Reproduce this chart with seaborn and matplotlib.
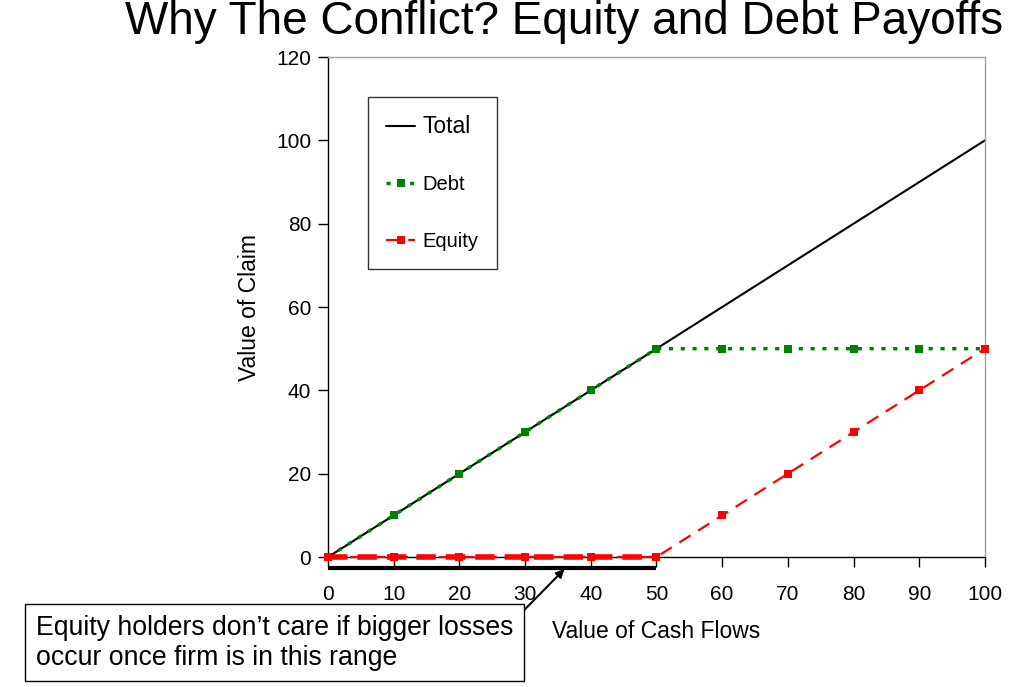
import numpy as np
import pandas as pd
import seaborn as sns
import matplotlib.pyplot as plt

# Data
cash_flows = [0, 10, 20, 30, 40, 50, 60, 70, 80, 90, 100]
total = [0, 10, 20, 30, 40, 50, 60, 70, 80, 90, 100]
debt = [0, 10, 20, 30, 40, 50, 50, 50, 50, 50, 50]
equity = [0, 0, 0, 0, 0, 0, 10, 20, 30, 40, 50]
x_ticks = [0, 10, 20, 30, 40, 50, 60, 70, 80, 90, 100]
y_ticks = [0, 20, 40, 60, 80, 100, 120]

df = pd.DataFrame({"cash": cash_flows, "Total": total, "Debt": debt, "Equity": equity})

sns.set_style("white")
plt.rcParams["font.family"] = ["Liberation Sans", "DejaVu Sans"]
plt.rcParams["text.color"] = "black"
plt.rcParams["axes.labelcolor"] = "black"
plt.rcParams["xtick.color"] = "black"
plt.rcParams["ytick.color"] = "black"

fig = plt.figure(figsize=(10.24, 6.87), dpi=100)
ax = fig.add_axes([0.3203, 0.1892, 0.6416, 0.7278])

# thick part of equity over the flat range (drawn first, markers go on top)
flat = df[df["cash"] <= 50]
ax.plot(flat["cash"], flat["Equity"], color="#ff0000", linewidth=4,
        linestyle=(0, (3.5, 1.8)), zorder=3, clip_on=False)

# Lines
sns.lineplot(data=df, x="cash", y="Total", color="black", linewidth=1.5,
             label="Total", ax=ax, clip_on=False)
sns.lineplot(data=df, x="cash", y="Debt", color="#008000", linewidth=2.5,
             linestyle=(0, (1.2, 2.2)), marker="s", markersize=6,
             markeredgewidth=0, label="Debt", ax=ax, clip_on=False)
sns.lineplot(data=df, x="cash", y="Equity", color="#ff0000", linewidth=1.6,
             linestyle=(0, (6, 4)), marker="s", markersize=6,
             markeredgewidth=0, label="Equity", ax=ax, clip_on=False,
             zorder=3.5)

# Axes
ax.set_xlim(0, 100)
ax.set_ylim(0, 120)
ax.set_xticks(x_ticks)
ax.set_yticks(y_ticks)
ax.tick_params(axis="both", labelsize=15, direction="out", length=7,
               width=1, color="black", bottom=True, left=True)
ax.tick_params(axis="x", pad=13)
ax.tick_params(axis="y", pad=5)
ax.set_xlabel("Value of Cash Flows", fontsize=16.5, labelpad=12)
ax.set_ylabel("Value of Claim", fontsize=16.5, labelpad=11)

for s in ["left", "bottom"]:
    ax.spines[s].set_color("black")
    ax.spines[s].set_linewidth(1)
for s in ["top", "right"]:
    ax.spines[s].set_color("#a0a0a0")
    ax.spines[s].set_linewidth(1)

leg = ax.legend(loc="upper left", bbox_to_anchor=(0.061, 0.92), fontsize=14.5,
                frameon=True, fancybox=False, edgecolor="black",
                labelspacing=1.85, handlelength=1.45, borderpad=0.9,
                handletextpad=0.35, borderaxespad=0)
leg.get_frame().set_linewidth(1)
leg.get_texts()[0].set_fontsize(16.5)

# Bracket under the flat range
ax.plot([0, 50], [-2.6, -2.6], color="black", linewidth=3, clip_on=False,
        solid_capstyle="butt")

# Annotation
ax.annotate("Equity holders don’t care if bigger losses\noccur once firm is in this range",
            xy=(36, -2.9), xycoords="data",
            xytext=(0.035, 0.024), textcoords="figure fraction",
            fontsize=19.2, ha="left", va="bottom", linespacing=1.2,
            annotation_clip=False,
            bbox=dict(boxstyle="square,pad=0.4", fc="white", ec="black", lw=1),
            arrowprops=dict(arrowstyle="-|>", color="black", lw=1.5,
                            shrinkA=0, shrinkB=0, mutation_scale=12,
                            relpos=(1.0, 0.88)))

fig.suptitle("Why The Conflict? Equity and Debt Payoffs", fontsize=33,
             x=0.551, y=1.0, va="top")

fig.savefig("out.png", dpi=100)
